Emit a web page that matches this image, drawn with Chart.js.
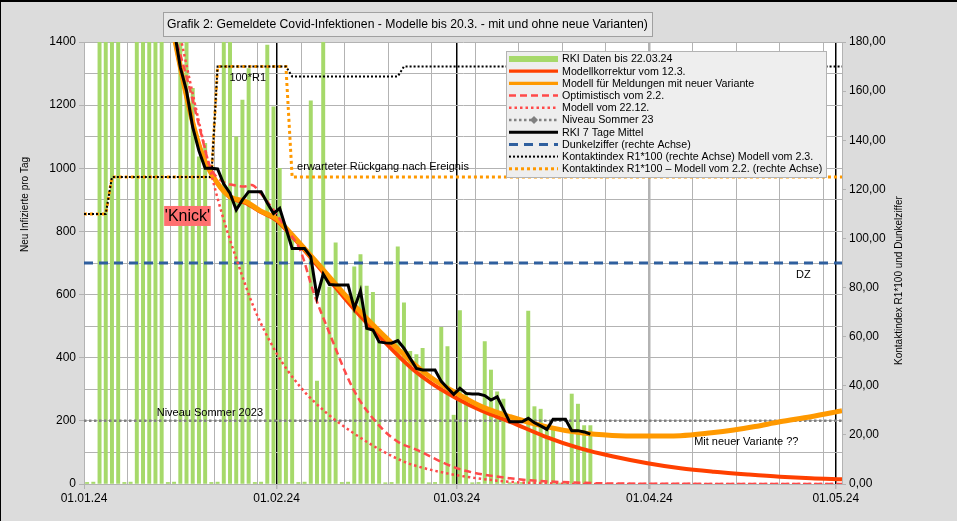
<!DOCTYPE html>
<html>
<head>
<meta charset="utf-8">
<script src="https://cdn.jsdelivr.net/npm/chart.js@4.4.1/dist/chart.umd.min.js"></script>
<style>
  html, body { margin: 0; padding: 0; background: #fff; }
  #myChart { display: block; }
</style>
</head>
<body>
<canvas id="myChart" width="958" height="522"></canvas>
<script>
// ---- data (days counted from 01.01.24) ----
const tickDays = [0, 31, 60, 91, 121];
const tickLabels = ['01.01.24', '01.02.24', '01.03.24', '01.04.24', '01.05.24'];

// RKI reported cases per day, day 0 = 01.01.24 ... day 81 = 22.03.24
const rkiCases = [
  5, 6, 2600, 2500, 2300, 2100, 5,
  6, 2400, 2300, 2100, 1900, 1700, 5,
  6, 1600, 1500, 1253, 1036, 1079, 5,
  6, 1450, 1420, 1100, 1216, 1316, 5,
  6, 1390, 1195, 1000, 800, 790, 5,
  6, 1214, 326, 1450, 624, 764, 5,
  6, 688, 727, 627, 607, 450, 4,
  5, 751, 574, 420, 410, 430, 4,
  5, 496, 435, 218, 549, 290, 4,
  5, 451, 361, 292, 269, 4, 4,
  5, 548, 245, 237, 181, 171, 3,
  4, 285, 253, 185, 185
];

// RKI 7-day mean, from day 14 to day 81
const avgStartDay = 14;
const rkiAvg7 = [
  1440, 1320, 1245, 1130, 1055, 1000, 1000, 998, 950, 921, 868, 900, 926, 926,
  926, 890, 857, 873, 810, 746, 746, 746, 720, 593, 665, 632, 630, 630,
  630, 556, 612, 493, 488, 450, 447, 446, 454, 430, 398, 366, 361, 361,
  361, 325, 304, 284, 303, 287, 285, 285, 280, 266, 276, 237, 197, 197,
  197, 208, 194, 184, 173, 205, 205, 205, 169, 169, 165, 158
];

const korrDays   = [14, 17, 19, 21.4, 23.5, 26, 28.4, 31, 33, 37, 43.4, 48, 51, 53, 56, 60, 64, 68.6, 74, 80, 85, 90.7, 96, 101.4, 107, 112, 117, 122];
const korrValues = [1466, 1185, 1045, 955, 908, 890, 862, 835, 795, 705, 555, 458, 398, 362, 318, 271, 232, 197, 152, 112, 88, 66, 50, 39, 30, 23, 18, 15];

const variantDays   = [14, 17, 19, 21.4, 23.5, 26, 28.4, 31, 33, 37, 43.4, 48, 51, 53, 56, 60, 64, 68.6, 74.5, 80, 85, 90, 96, 101, 104.6, 108, 112, 117, 122];
const variantValues = [1466, 1185, 1045, 955, 910, 895, 865, 840, 800, 712, 568, 475, 419, 382, 335, 287, 245, 213, 181, 162, 154, 152, 153, 162, 171, 182, 197, 213, 232];

const optDays   = [14.5, 16.8, 18.7, 20.3, 22.4, 24, 25.7, 27, 28.4, 30.5, 32.7, 34.8, 37, 39.1, 43.4, 47.7, 50.9, 53, 60, 68.6, 80, 90, 122];
const optValues = [1428, 1269, 1121, 1005, 957, 947, 942, 947, 921, 868, 804, 741, 604, 498, 298, 181, 129, 113, 50, 18, 4, 1, 0];

const dec22Days   = [15, 17.6, 19.8, 21.5, 23, 24.6, 27.3, 31, 34.8, 39.1, 43.4, 47.7, 50.9, 53, 60, 68.6, 75, 80, 122];
const dec22Values = [1464, 1227, 1036, 905, 804, 709, 561, 414, 308, 224, 161, 108, 76, 60, 28, 7, 2, 0, 0];

const niveauSommer = 200;
const dunkelziffer = 90;

const kontakt23Days   = [0, 3.5, 4.5, 20.5, 21.5, 32.5, 33.5, 50.5, 51.5, 122];
const kontakt23Values = [110, 110, 125, 125, 170, 170, 166, 166, 170, 170];
const kontakt22Days   = [0, 3.5, 4.5, 20.5, 21.5, 32.5, 33.5, 122];
const kontakt22Values = [110, 110, 125, 125, 170, 170, 125, 125];

const seriesLabels = [
  'RKI Daten bis 22.03.24',
  'Modellkorrektur vom 12.3.',
  'Modell für Meldungen mit neuer Variante',
  'Optimistisch vom 2.2.',
  'Modell vom 22.12.',
  'Niveau Sommer 23',
  'RKI 7 Tage Mittel',
  'Dunkelziffer (rechte Achse)',
  'Kontaktindex R1*100 (rechte Achse) Modell vom 2.3.',
  'Kontaktindex R1*100 – Modell vom 2.2. (rechte Achse)'
];

const notes = [
  { text: '100*R1', day: 23.4, value: 1285 },
  { text: 'erwarteter Rückgang nach Ereignis', day: 34.3, value: 1005 },
  { text: 'Niveau Sommer 2023', day: 11.7, value: 224 },
  { text: 'DZ', day: 114.6, value: 662 },
  { text: 'Mit neuer Variante ??', day: 98.2, value: 132 }
];
const knick = { text: "'Knick'", dayFrom: 12.9, dayTo: 20.4, value: 849 };

const chartTitle = 'Grafik 2: Gemeldete Covid-Infektionen - Modelle bis 20.3. - mit und ohne neue Varianten)';
const leftTitle = 'Neu Infizierte pro Tag';
const rightTitle = 'Kontaktindex R1*100 und Dunkelziffer';

// ---- helpers ----
const FONT = '"Liberation Sans", Arial, sans-serif';
function pts(days, values) { return days.map((d, i) => ({ x: d, y: values[i] })); }
const lastDay = 122;
const gridDays = Array.from(new Set([...Array.from({ length: 18 }, (_, i) => i * 7), ...tickDays])).sort((a, b) => a - b);
const blackMonthDays = [31, 60, 121];

const bgPlugin = {
  id: 'bg',
  beforeDraw(chart) {
    const c = chart.ctx, a = chart.chartArea;
    c.save();
    c.fillStyle = '#fff';
    c.fillRect(0, 0, chart.width, chart.height);
    c.fillStyle = '#dcdcdc';
    c.fillRect(0, 0, chart.width - 1, chart.height - 1);
    c.fillStyle = '#000';
    c.fillRect(0, 0, chart.width - 1, 2);
    c.fillRect(0, 0, 1, chart.height - 1);
    c.fillStyle = '#fff';
    c.fillRect(a.left, a.top, a.right - a.left, a.bottom - a.top);
    c.restore();
  }
};

const overlayPlugin = {
  id: 'overlay',
  afterDatasetsDraw(chart) {
    const c = chart.ctx;
    const xs = chart.scales.x, ys = chart.scales.y;
    c.save();
    // text notes
    c.font = '11px ' + FONT;
    c.fillStyle = '#000';
    c.textBaseline = 'middle';
    c.textAlign = 'left';
    notes.forEach(n => c.fillText(n.text, xs.getPixelForValue(n.day), ys.getPixelForValue(n.value)));
    // Knick box
    const kx0 = xs.getPixelForValue(knick.dayFrom), kx1 = xs.getPixelForValue(knick.dayTo);
    const ky = ys.getPixelForValue(knick.value);
    c.fillStyle = '#ff7070';
    c.fillRect(kx0, ky - 10, kx1 - kx0, 20);
    c.fillStyle = '#000';
    c.font = '16px ' + FONT;
    c.textAlign = 'center';
    c.fillText(knick.text, (kx0 + kx1) / 2, ky + 1);

    // legend
    const lx = 506, ly = 51, lw = 320, lh = 126;
    c.fillStyle = '#eeeeee';
    c.fillRect(lx, ly, lw, lh);
    c.strokeStyle = '#b3b3b3';
    c.lineWidth = 1;
    c.strokeRect(lx + 0.5, ly + 0.5, lw, lh);
    c.font = '10.7px ' + FONT;
    c.textAlign = 'left';
    chart.data.datasets.forEach((ds, i) => {
      const y = ly + 8 + i * 12.2;
      c.save();
      c.beginPath();
      c.moveTo(lx + 3, y);
      c.lineTo(lx + 52, y);
      if (ds.type === 'bar') {
        c.strokeStyle = ds.backgroundColor;
        c.lineWidth = 6;
      } else {
        c.strokeStyle = ds.borderColor;
        c.lineWidth = Math.min(ds.borderWidth, 3.3);
        c.setLineDash(ds.borderDash || []);
      }
      c.stroke();
      if (ds.legendMarker) {
        c.setLineDash([]);
        c.fillStyle = ds.borderColor;
        c.beginPath();
        c.moveTo(lx + 28, y - 4); c.lineTo(lx + 32, y); c.lineTo(lx + 28, y + 4); c.lineTo(lx + 24, y);
        c.closePath();
        c.fill();
      }
      c.restore();
      c.fillStyle = '#000';
      c.fillText(ds.label, lx + 56, y + 0.5);
    });
    c.restore();
  },
  afterDraw(chart) {
    const c = chart.ctx;
    c.save();
    // title box
    c.fillStyle = '#e8e8e8';
    c.fillRect(163, 12, 489, 24);
    c.strokeStyle = '#a0a0a0';
    c.lineWidth = 1;
    c.strokeRect(163.5, 12.5, 489, 24);
    c.fillStyle = '#000';
    c.font = '12.2px ' + FONT;
    c.textAlign = 'center';
    c.textBaseline = 'middle';
    c.fillText(chartTitle, 407.5, 25);
    // axis titles
    c.font = '10px ' + FONT;
    c.textAlign = 'left';
    c.save();
    c.translate(25, 252);
    c.rotate(-Math.PI / 2);
    c.fillText(leftTitle, 0, 0);
    c.restore();
    c.save();
    c.translate(899, 365);
    c.rotate(-Math.PI / 2);
    c.fillText(rightTitle, 0, 0);
    c.restore();
    c.restore();
  }
};

const lineBase = { type: 'line', pointRadius: 0, fill: false, yAxisID: 'y' };

const ctx = document.getElementById('myChart').getContext('2d');
const myChart = new Chart(ctx, {
  type: 'line',
  data: {
    datasets: [
      { type: 'bar', label: seriesLabels[0], data: rkiCases.map((v, i) => ({ x: i + 0.5, y: v })),
        backgroundColor: '#a6d96a', barThickness: 3.3, yAxisID: 'y', order: 20 },
      { ...lineBase, label: seriesLabels[1], data: pts(korrDays, korrValues),
        borderColor: '#ff4000', borderWidth: 4, cubicInterpolationMode: 'monotone', order: 5 },
      { ...lineBase, label: seriesLabels[2], data: pts(variantDays, variantValues),
        borderColor: '#ff9900', borderWidth: 5, cubicInterpolationMode: 'monotone', order: 4 },
      { ...lineBase, label: seriesLabels[3], data: pts(optDays, optValues),
        borderColor: '#ff4a4a', borderWidth: 2.5, borderDash: [7, 4], cubicInterpolationMode: 'monotone', order: 3 },
      { ...lineBase, label: seriesLabels[4], data: pts(dec22Days, dec22Values),
        borderColor: '#ff4a4a', borderWidth: 2.5, borderDash: [2.5, 3], cubicInterpolationMode: 'monotone', order: 3 },
      { ...lineBase, label: seriesLabels[5], data: [{ x: 0, y: niveauSommer }, { x: lastDay, y: niveauSommer }],
        borderColor: '#808080', borderWidth: 2.5, borderDash: [2.5, 2.5], legendMarker: true, order: 8 },
      { ...lineBase, label: seriesLabels[6], data: rkiAvg7.map((v, i) => ({ x: avgStartDay + i + 0.5, y: v })),
        borderColor: '#000000', borderWidth: 3, order: 1 },
      { ...lineBase, label: seriesLabels[7], data: [{ x: 0, y: dunkelziffer }, { x: lastDay, y: dunkelziffer }],
        borderColor: '#2f5f9e', borderWidth: 3, borderDash: [9, 6], yAxisID: 'y2', order: 9 },
      { ...lineBase, label: seriesLabels[8], data: pts(kontakt23Days, kontakt23Values),
        borderColor: '#000000', borderWidth: 2, borderDash: [2, 2], yAxisID: 'y2', order: 6 },
      { ...lineBase, label: seriesLabels[9], data: pts(kontakt22Days, kontakt22Values),
        borderColor: '#ff9900', borderWidth: 3, borderDash: [3, 3], yAxisID: 'y2', order: 7 }
    ]
  },
  options: {
    responsive: false,
    animation: false,
    events: [],
    layout: { padding: { top: 42, left: 0, right: 0, bottom: 0 } },
    plugins: { legend: { display: false }, tooltip: { enabled: false }, title: { display: false } },
    scales: {
      x: {
        type: 'linear', min: 0, max: lastDay, offset: false,
        afterBuildTicks(scale) { scale.ticks = gridDays.map(v => ({ value: v })); },
        afterFit(scale) { scale.height = 38; },
        ticks: {
          autoSkip: false, maxRotation: 0, padding: 2, color: '#000',
          font: { family: FONT, size: 12 },
          callback: (v) => { const k = tickDays.indexOf(v); return k >= 0 ? tickLabels[k] : ''; }
        },
        grid: {
          offset: false, tickLength: 5,
          color: (c) => blackMonthDays.includes(c.tick && c.tick.value) ? '#000' : '#b3b3b3',
          lineWidth: (c) => { const v = c.tick && c.tick.value; return v === 91 ? 2.5 : (blackMonthDays.includes(v) ? 1.5 : 1); },
          tickColor: (c) => tickDays.includes(c.tick && c.tick.value) ? '#b3b3b3' : 'rgba(0,0,0,0)'
        },
        border: { color: '#b3b3b3' }
      },
      y: {
        position: 'left', min: 0, max: 1400,
        afterFit(scale) { scale.width = 84; },
        ticks: {
          stepSize: 100, padding: 3, color: '#000', font: { family: FONT, size: 12 },
          callback: (v) => (v % 200 === 0 ? String(v) : '')
        },
        grid: {
          color: '#b3b3b3', tickLength: 5,
          tickColor: (c) => (c.tick && c.tick.value % 200 === 0) ? '#b3b3b3' : 'rgba(0,0,0,0)'
        },
        border: { color: '#b3b3b3' }
      },
      y2: {
        position: 'right', min: 0, max: 180,
        afterFit(scale) { scale.width = 116; },
        ticks: {
          stepSize: 20, padding: 3, color: '#000', font: { family: FONT, size: 12 },
          callback: (v) => v.toFixed(2).replace('.', ',')
        },
        grid: { drawOnChartArea: false, color: '#b3b3b3', tickLength: 4 },
        border: { color: '#b3b3b3' }
      }
    }
  },
  plugins: [bgPlugin, overlayPlugin]
});
</script>
</body>
</html>
